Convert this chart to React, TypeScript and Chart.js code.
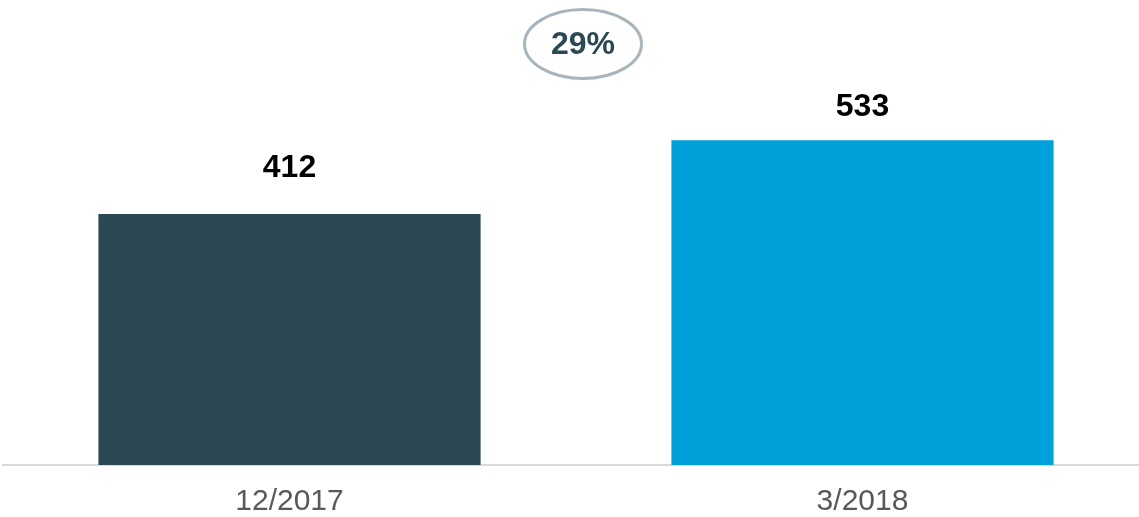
import React, { useEffect, useRef } from "react";
import { Chart, registerables } from "chart.js";

Chart.register(...registerables);

const categories = ["12/2017", "3/2018"];
const values = [412, 533];
const barColors = ["#2B4853", "#00A0DB"];
const labelOffsets = [46, 33];

const FONT = "'Liberation Sans', Arial, Helvetica, sans-serif";

const labelsPlugin = {
  id: "customLabels",
  afterDatasetsDraw(chart: any) {
    const ctx = chart.ctx;
    const meta = chart.getDatasetMeta(0);
    ctx.save();
    ctx.textAlign = "center";
    ctx.textBaseline = "middle";
    ctx.font = `bold 32px ${FONT}`;
    ctx.fillStyle = "#000000";
    meta.data.forEach((bar: any, i: number) => {
      ctx.fillText(String(values[i]), bar.x, bar.y - labelOffsets[i]);
    });
    // growth ellipse
    const b0 = meta.data[0];
    const b1 = meta.data[1];
    const cx = (b0.x + b1.x) / 2 + 7;
    const cy = chart.chartArea.top + 36;
    ctx.beginPath();
    ctx.ellipse(cx, cy, 58.5, 34.5, 0, 0, Math.PI * 2);
    ctx.lineWidth = 3;
    ctx.strokeStyle = "#A9B5BC";
    ctx.stroke();
    const pct = Math.round(((values[1] - values[0]) / values[0]) * 100);
    ctx.fillStyle = "#2B4853";
    ctx.font = `bold 32px ${FONT}`;
    ctx.fillText(`${pct}%`, cx, cy + 1);
    ctx.restore();
  },
};

export default function App() {
  const ref = useRef<HTMLCanvasElement | null>(null);
  useEffect(() => {
    if (!ref.current) return;
    const chart = new Chart(ref.current, {
      type: "bar",
      data: {
        labels: categories,
        datasets: [
          {
            data: values,
            backgroundColor: barColors,
            borderWidth: 0,
            categoryPercentage: 1,
            barPercentage: 0.667,
          },
        ],
      },
      options: {
        responsive: false,
        animation: false,
        devicePixelRatio: 1,
        layout: { padding: { top: 8, left: 3, right: 2, bottom: 0 } },
        plugins: {
          legend: { display: false },
          tooltip: { enabled: false },
        },
        scales: {
          x: {
            grid: { display: false, drawTicks: false },
            border: { display: true, color: "#D9D9D9", width: 2 },
            ticks: {
              color: "#595959",
              font: { family: FONT, size: 30 },
              padding: 19,
            },
          },
          y: {
            display: false,
            min: 0,
            max: 750,
          },
        },
      },
      plugins: [labelsPlugin],
    });
    return () => chart.destroy();
  }, []);
  return (
    <div
      style={{
        position: "absolute",
        left: 0,
        top: 0,
        width: 1139,
        height: 517,
        overflow: "hidden",
        background: "#fff",
      }}
    >
      <canvas ref={ref} width={1151} height={539} style={{ display: "block" }} />
    </div>
  );
}
